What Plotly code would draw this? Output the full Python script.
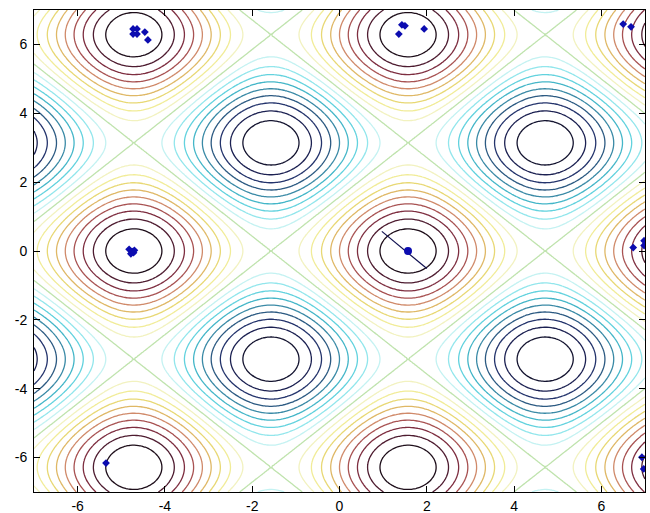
import numpy as np
import plotly.graph_objects as go

# Surface: f(x, y) = sin(x) + cos(y) on [-7, 7] x [-7, 7]
x_min, x_max = -7.0, 7.0
y_min, y_max = -7.0, 7.0
grid_x = np.linspace(x_min, x_max, 281)
grid_y = np.linspace(y_min, y_max, 281)
Z = np.sin(grid_x)[None, :] + np.cos(grid_y)[:, None]

# contour levels
level_start, level_end, level_step = -1.8, 1.8, 0.2

# per-level line colours (low -> high)
level_colors = [
    "#141430", "#1c2152", "#24346c", "#2c5a82", "#3a8aa6", "#44b6c8",
    "#62d2de", "#92e6ec", "#c4f2f2", "#bfe3ad", "#f2f2c0", "#f1ec98",
    "#e8d874", "#dfb866", "#d08a6a", "#a85252", "#7e2e40", "#4e1c30",
    "#1e0e1a",
]

# particle positions (blue markers)
particle_x = [-4.73, -4.64, -4.73, -4.64, -4.46, -4.39,
              1.43, 1.50, 1.36, 1.94,
              6.50, 6.68,
              -4.82, -4.75, -4.70, -4.78, -4.72,
              6.73, 6.98, 6.98,
              6.93, 6.97,
              -5.35]
particle_y = [6.45, 6.45, 6.30, 6.30, 6.36, 6.13,
              6.57, 6.54, 6.30, 6.45,
              6.59, 6.51,
              0.05, -0.02, 0.02, -0.08, -0.05,
              0.10, 0.30, 0.16,
              -5.99, -6.33,
              -6.16]

# best particle and its velocity segment
best_x = [1.57]
best_y = [0.0]
seg_x = [0.97, 2.0]
seg_y = [0.57, -0.51]

tick_vals = [-6, -4, -2, 0, 2, 4, 6]
tick_text = ["-6", "-4", "-2", "0", "2", "4", "6"]

n = len(level_colors)
colorscale = [[i / (n - 1), c] for i, c in enumerate(level_colors)]

fig = go.Figure()
fig.add_trace(go.Contour(
    x=grid_x, y=grid_y, z=Z,
    contours=dict(start=level_start, end=level_end, size=level_step,
                  coloring="lines", showlabels=False),
    colorscale=colorscale, zmin=level_start, zmax=level_end,
    line=dict(width=1.3, smoothing=1),
    showscale=False, hoverinfo="skip",
))
fig.add_trace(go.Scatter(
    x=seg_x, y=seg_y, mode="lines",
    line=dict(color="#101050", width=1.2), hoverinfo="skip",
))
fig.add_trace(go.Scatter(
    x=particle_x, y=particle_y, mode="markers",
    marker=dict(symbol="diamond", size=6, color="#0c0cb0"),
    hoverinfo="skip",
))
fig.add_trace(go.Scatter(
    x=best_x, y=best_y, mode="markers",
    marker=dict(symbol="circle", size=8, color="#0c0cb0"),
    hoverinfo="skip",
))

axis_common = dict(
    showgrid=False, zeroline=False, showline=True, linecolor="black",
    linewidth=1, mirror="ticks", ticks="inside", ticklen=6,
    tickcolor="black", tickvals=tick_vals, ticktext=tick_text,
    automargin=False,
    tickfont=dict(family="Liberation Sans, Arial, sans-serif", size=14,
                  color="black"),
)
fig.update_layout(
    width=650, height=513,
    margin=dict(l=34, r=5, t=10, b=21, autoexpand=False),
    paper_bgcolor="white", plot_bgcolor="white",
    showlegend=False,
    xaxis=dict(range=[x_min, x_max], ticklabelstandoff=1, **axis_common),
    yaxis=dict(range=[y_min, y_max], ticklabelstandoff=3, **axis_common),
)
fig.write_html("out.html",
               config={"displayModeBar": False},
               post_script="document.body.style.margin='0';"
                           "document.body.style.overflow='hidden';")
